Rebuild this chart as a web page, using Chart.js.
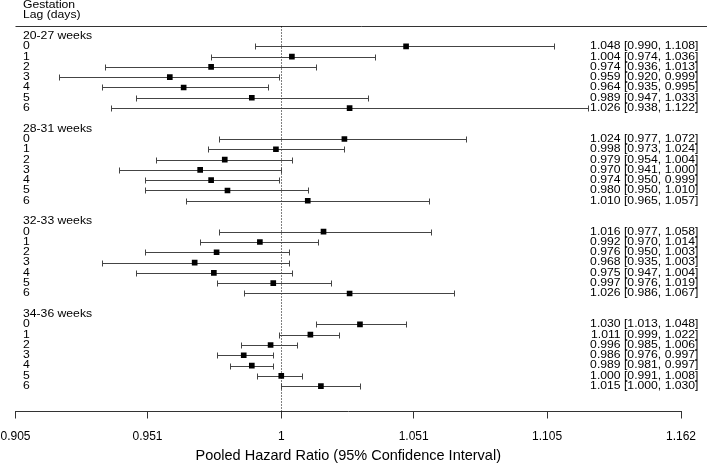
<!DOCTYPE html>
<html>
<head>
<meta charset="utf-8">
<script src="https://cdn.jsdelivr.net/npm/chart.js@4.4.0/dist/chart.umd.min.js"></script>
<style>
  html, body { margin: 0; padding: 0; background: #fff; }
  #wrap { width: 709px; height: 466px; }
</style>
</head>
<body>
<div id="wrap"><canvas id="forest" width="709" height="466"></canvas></div>
<script>
const groups = ['20-27 weeks', '28-31 weeks', '32-33 weeks', '34-36 weeks'];
const lags   = ['0', '1', '2', '3', '4', '5', '6'];

// pooled HR, lower and upper 95% CI per lag day
const est_20_27 = [1.048, 1.004, 0.974, 0.959, 0.964, 0.989, 1.026];
const lo_20_27  = [0.990, 0.974, 0.936, 0.920, 0.935, 0.947, 0.938];
const hi_20_27  = [1.108, 1.036, 1.013, 0.999, 0.995, 1.033, 1.122];

const est_28_31 = [1.024, 0.998, 0.979, 0.970, 0.974, 0.980, 1.010];
const lo_28_31  = [0.977, 0.973, 0.954, 0.941, 0.950, 0.950, 0.965];
const hi_28_31  = [1.072, 1.024, 1.004, 1.000, 0.999, 1.010, 1.057];

const est_32_33 = [1.016, 0.992, 0.976, 0.968, 0.975, 0.997, 1.026];
const lo_32_33  = [0.977, 0.970, 0.950, 0.935, 0.947, 0.976, 0.986];
const hi_32_33  = [1.058, 1.014, 1.003, 1.003, 1.004, 1.019, 1.067];

const est_34_36 = [1.030, 1.011, 0.996, 0.986, 0.989, 1.000, 1.015];
const lo_34_36  = [1.013, 0.999, 0.985, 0.976, 0.981, 0.991, 1.000];
const hi_34_36  = [1.048, 1.022, 1.006, 0.997, 0.997, 1.008, 1.030];

const tickVals   = [0.905, 0.951, 1, 1.051, 1.105, 1.162];
const tickLabels = ['0.905', '0.951', '1', '1.051', '1.105', '1.162'];

const estAll = [est_20_27, est_28_31, est_32_33, est_34_36];
const loAll  = [lo_20_27, lo_28_31, lo_32_33, lo_34_36];
const hiAll  = [hi_20_27, hi_28_31, hi_32_33, hi_34_36];

// each group takes 9 rows: header, 7 lags, blank
const rowOf = (g, l) => g * 9 + 1 + l;

const rows = [];
groups.forEach((name, g) => {
  lags.forEach((lag, l) => {
    rows.push({ g, l, y: rowOf(g, l), est: estAll[g][l], lo: loAll[g][l], hi: hiAll[g][l] });
  });
});

const FONT = '"Liberation Sans", Arial, sans-serif';

// the original's text is a little wider than plain Arial
function wideText(ctx, txt, x, y) {
  ctx.save();
  ctx.translate(x, y);
  ctx.scale(1.15, 1);
  ctx.fillText(txt, 0, 0);
  ctx.restore();
}

const forestPlugin = {
  id: 'forest',
  beforeDatasetsDraw(chart) {
    const { ctx, chartArea, scales: { x, y } } = chart;
    ctx.save();

    // top rule
    const ruleY = Math.round(y.getPixelForValue(-1)) + 0.5;
    ctx.strokeStyle = '#333';
    ctx.lineWidth = 1;
    ctx.beginPath();
    ctx.moveTo(chartArea.left, ruleY);
    ctx.lineTo(707, ruleY);
    ctx.stroke();

    // reference line at HR = 1
    const x1 = Math.round(x.getPixelForValue(1)) + 0.5;
    ctx.setLineDash([1, 2]);
    ctx.strokeStyle = '#000';
    ctx.beginPath();
    ctx.moveTo(x1, ruleY);
    ctx.lineTo(x1, chartArea.bottom);
    ctx.stroke();
    ctx.setLineDash([]);

    // confidence intervals
    ctx.strokeStyle = '#444';
    rows.forEach(r => {
      const py = Math.round(y.getPixelForValue(r.y)) + 0.5;
      const xl = Math.round(x.getPixelForValue(r.lo)) + 0.5;
      const xh = Math.round(x.getPixelForValue(r.hi)) + 0.5;
      ctx.beginPath();
      ctx.moveTo(xl, py); ctx.lineTo(xh, py);
      ctx.moveTo(xl, py - 3); ctx.lineTo(xl, py + 3);
      ctx.moveTo(xh, py - 3); ctx.lineTo(xh, py + 3);
      ctx.stroke();
    });
    ctx.restore();
  },
  afterDraw(chart) {
    const { ctx, scales: { y } } = chart;
    ctx.save();
    ctx.fillStyle = '#000';
    ctx.font = `10.6px ${FONT}`;
    ctx.textBaseline = 'middle';

    ctx.textAlign = 'left';
    wideText(ctx, 'Gestation', 23, y.getPixelForValue(-3));
    wideText(ctx, 'Lag (days)', 23, y.getPixelForValue(-2));
    groups.forEach((name, g) => {
      wideText(ctx, name, 23, y.getPixelForValue(g * 9));
    });
    rows.forEach(r => {
      wideText(ctx, lags[r.l], 23, y.getPixelForValue(r.y));
    });

    ctx.textAlign = 'right';
    rows.forEach(r => {
      const txt = `${r.est.toFixed(3)} [${r.lo.toFixed(3)}, ${r.hi.toFixed(3)}]`;
      wideText(ctx, txt, 698.5, y.getPixelForValue(r.y));
    });
    ctx.restore();
  }
};

new Chart(document.getElementById('forest'), {
  type: 'scatter',
  data: {
    datasets: [{
      data: rows.map(r => ({ x: r.est, y: r.y })),
      pointStyle: 'rect',
      pointRadius: 4,
      pointHoverRadius: 4,
      backgroundColor: '#000',
      borderWidth: 0
    }]
  },
  options: {
    responsive: false,
    animation: false,
    layout: { padding: { left: 15.5, right: 28, top: 25.7, bottom: 0 } },
    plugins: {
      legend: { display: false },
      tooltip: { enabled: false }
    },
    scales: {
      x: {
        type: 'logarithmic',
        min: 0.905,
        max: 1.162,
        afterBuildTicks(scale) {
          scale.ticks = tickVals.map(v => ({ value: v }));
        },
        afterFit(scale) {
          // keep the axis ends where the reference has them
          scale.paddingLeft = 0;
          scale.paddingRight = 0;
          scale.height = 54.5;
        },
        ticks: {
          autoSkip: false,
          maxRotation: 0,
          padding: 10.5,
          color: '#000',
          font: { family: FONT, size: 12 },
          callback: (v, i) => tickLabels[i]
        },
        grid: { display: true, drawOnChartArea: false, drawTicks: true, tickLength: 7, color: '#333' },
        border: { display: true, color: '#333' },
        title: {
          display: true,
          text: 'Pooled Hazard Ratio (95% Confidence Interval)',
          color: '#000',
          font: { family: FONT, size: 14.5 },
          padding: { top: 4, bottom: 1 }
        }
      },
      y: {
        type: 'linear',
        display: false,
        reverse: true,
        min: -1,
        max: 36.46
      }
    }
  },
  plugins: [forestPlugin]
});
</script>
</body>
</html>
